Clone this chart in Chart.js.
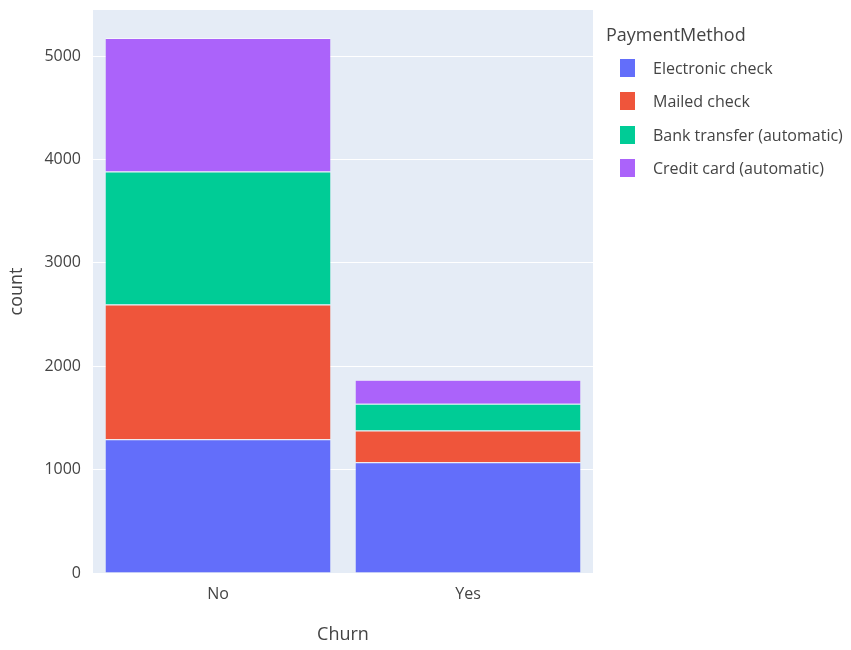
<!DOCTYPE html>
<html>
<head>
<meta charset="utf-8">
<script src="https://cdn.jsdelivr.net/npm/chart.js@4"></script>
<style>
  html, body { margin: 0; padding: 0; background: #ffffff; }
  #wrap { position: relative; width: 851px; height: 650px; }
  #legend {
    position: absolute; left: 606px; top: 19px;
    font-family: 'Open Sans', sans-serif; color: #444;
  }
  #legend .title { font-size: 18px; line-height: 30px; margin-bottom: 2px; }
  #legend .item { display: flex; align-items: center; height: 33.5px; font-size: 16px; }
  #legend .swatch { width: 15px; height: 18px; margin-left: 14px; margin-right: 18px; }
</style>
</head>
<body>
<div id="wrap">
  <canvas id="chart" width="851" height="650"></canvas>
  <div id="legend"></div>
</div>
<script>
// Churn counts by payment method
const categories = ['No', 'Yes'];
const methods = ['Electronic check', 'Mailed check', 'Bank transfer (automatic)', 'Credit card (automatic)'];
const electronicCheck = [1294, 1071];
const mailedCheck = [1304, 308];
const bankTransfer = [1286, 258];
const creditCard = [1290, 232];
const yTicks = [0, 1000, 2000, 3000, 4000, 5000];

const colors = ['#636efa', '#ef553b', '#00cc96', '#ab63fa'];
const seriesValues = [electronicCheck, mailedCheck, bankTransfer, creditCard];

const textColor = '#444';
const fontFamily = "'Open Sans', sans-serif";

// plotly-ish plot background
const plotBg = {
    id: 'plotBg',
    beforeDraw(chart) {
        const { ctx, chartArea: a } = chart;
        ctx.save();
        ctx.fillStyle = '#e5ecf6';
        ctx.fillRect(a.left, a.top, a.right - a.left, a.bottom - a.top);
        ctx.restore();
    }
};

new Chart(document.getElementById('chart'), {
    type: 'bar',
    data: {
        labels: categories,
        datasets: methods.map((m, i) => ({
            label: m,
            data: seriesValues[i],
            backgroundColor: colors[i],
            borderColor: 'rgba(255,255,255,0.6)',
            borderWidth: { top: 1, bottom: 0, left: 0, right: 0 },
            categoryPercentage: 1.0,
            barPercentage: 0.9
        }))
    },
    options: {
        responsive: false,
        animation: false,
        layout: { padding: { top: 0, right: 258, left: 0, bottom: 0 } },
        plugins: {
            legend: { display: false },
            tooltip: { enabled: false }
        },
        scales: {
            x: {
                stacked: true,
                grid: { display: false },
                border: { display: false },
                ticks: { color: textColor, font: { family: fontFamily, size: 16 }, padding: 4 },
                title: {
                    display: true, text: 'Churn', color: textColor,
                    font: { family: fontFamily, size: 18 }, padding: { top: 18 }
                },
                afterFit: s => { s.height = 77; }
            },
            y: {
                stacked: true,
                min: 0,
                max: 5446,
                afterBuildTicks: s => { s.ticks = yTicks.map(v => ({ value: v })); },
                grid: {
                    color: ctx => ctx.tick && ctx.tick.value === 0 ? 'rgba(0,0,0,0)' : '#ffffff',
                    lineWidth: 1,
                    drawTicks: false
                },
                border: { display: false },
                ticks: {
                    color: textColor, font: { family: fontFamily, size: 16 }, padding: 12,
                    callback: v => String(v)
                },
                title: {
                    display: true, text: 'count', color: textColor,
                    font: { family: fontFamily, size: 18 }, padding: { top: 6, bottom: 0 }
                },
                afterFit: s => { s.width = 93; s.paddingTop = 10; }
            }
        }
    },
    plugins: [plotBg]
});

// HTML legend built from the same arrays
const legend = document.getElementById('legend');
const t = document.createElement('div');
t.className = 'title';
t.textContent = 'PaymentMethod';
legend.appendChild(t);
methods.forEach((m, i) => {
    const row = document.createElement('div');
    row.className = 'item';
    const sw = document.createElement('span');
    sw.className = 'swatch';
    sw.style.background = colors[i];
    const lbl = document.createElement('span');
    lbl.textContent = m;
    row.appendChild(sw);
    row.appendChild(lbl);
    legend.appendChild(row);
});
</script>
</body>
</html>
